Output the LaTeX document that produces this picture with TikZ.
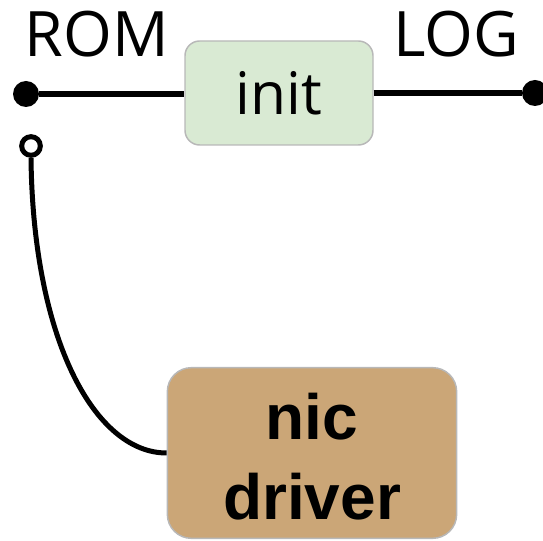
\documentclass[tikz,border=0pt]{standalone}
\usepackage{fontspec}
\setmainfont{Open Sans}
\newfontfamily\boldsans{Liberation Sans}
\usetikzlibrary{arrows.meta,calc,positioning}

\definecolor{initgreen}{HTML}{D9EAD3}
\definecolor{nicbrown}{HTML}{CBA677}
\definecolor{boxedge}{HTML}{B8B8B8}

\begin{document}
\begin{tikzpicture}[
    x=0.75pt, y=-0.75pt,
    every node/.style={align=center, inner sep=0pt},
    stage/.style={rounded corners=11pt, draw=boxedge, line width=1.1pt},
    pin/.style={circle, fill=black, minimum size=19.5pt},
    port/.style={circle, draw=black, fill=white, line width=3.75pt, minimum size=14pt},
    wire/.style={line width=5.2pt},
    label/.style={font=\fontsize{47}{55}\selectfont}
]
\useasboundingbox (0,0) rectangle (543,541);

% --- Nodes ---
\node[stage, fill=initgreen, minimum width=141pt, minimum height=78pt,
      font=\fontsize{44}{50}\selectfont] (init) at (279,93) {init};
\node[stage, fill=nicbrown, rounded corners=18pt, minimum width=217pt, minimum height=128pt,
      font=\boldsans\bfseries\fontsize{48}{60}\selectfont] (nic) at (312,453) {};
\node[font=\boldsans\bfseries\fontsize{48}{60}\selectfont] (nictext) at (312,457) {nic\\driver};

\node[label] (rom) at (97,34) {ROM};
\node[label] (log) at (456,34) {LOG};

\node[pin] (romdot) at (26,94) {};
\node[pin] (logdot) at (535,93) {};
\node[port] (nicport) at (31,146) {};

% --- Wires ---
\draw[wire] (romdot) -- (init.west |- romdot);
\draw[wire] (init.east |- logdot) -- (logdot);
\draw[line width=3.75pt] (nicport.south) .. controls (33,340) and (95,453) .. (nic.west);

\end{tikzpicture}
\end{document}
